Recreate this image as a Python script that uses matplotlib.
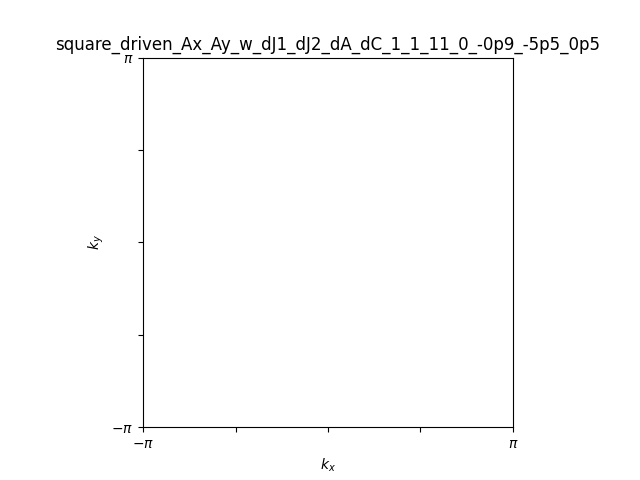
import numpy as np
import matplotlib
matplotlib.use("Agg")
import matplotlib.pyplot as plt

title = "square_driven_Ax_Ay_w_dJ1_dJ2_dA_dC_1_1_11_0_-0p9_-5p5_0p5"
k_limits = [-np.pi, np.pi]
tick_values = [-np.pi, -np.pi / 2, 0, np.pi / 2, np.pi]
tick_labels = [r"$-\pi$", "", "", "", r"$\pi$"]

fig, ax = plt.subplots(figsize=(6.4, 4.8), dpi=100)
ax.set_xlim(k_limits)
ax.set_ylim(k_limits)
ax.set_aspect("equal")
ax.set_xticks(tick_values)
ax.set_xticklabels(tick_labels)
ax.set_yticks(tick_values)
ax.set_yticklabels(tick_labels)
ax.set_xlabel(r"$k_x$")
ax.set_ylabel(r"$k_y$")
ax.set_title(title)

fig.savefig("out.png", dpi=100)
